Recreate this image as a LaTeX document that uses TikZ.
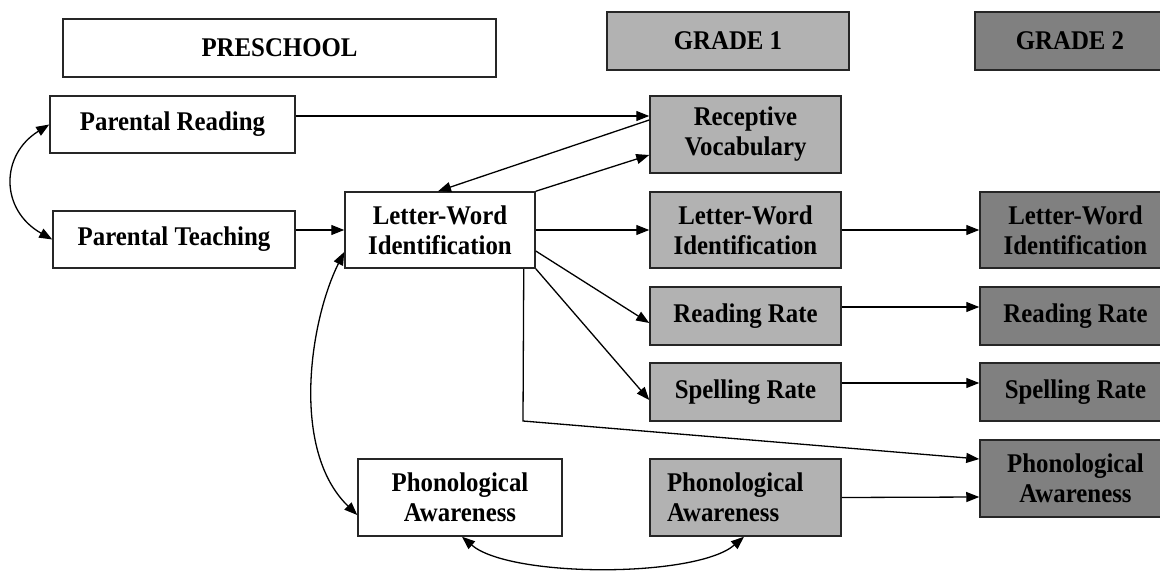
\documentclass[tikz,border=0pt]{standalone}
\usepackage{fontspec}
\setmainfont[FakeStretch=0.92]{Liberation Serif}
\usetikzlibrary{arrows.meta}
\definecolor{gone}{RGB}{178,178,178}
\definecolor{gtwo}{RGB}{128,128,128}
\begin{document}
\begin{tikzpicture}[x=1pt,y=-1pt,
  box/.style={draw=black!85,line width=1.5pt,minimum width=191pt,minimum height=77pt,
    align=center,inner sep=0pt,font=\fontsize{27}{30}\selectfont\bfseries},
  pre/.style={box,fill=white},
  gA/.style={box,fill=gone},
  gB/.style={box,fill=gtwo},
  conn/.style={line width=1.3pt,-{Triangle[length=13pt,width=10pt]}},
  dconn/.style={line width=1.3pt,{Triangle[length=13pt,width=10pt]}-{Triangle[length=13pt,width=10pt]}}]
\useasboundingbox (0,0) rectangle (1160,573);
% headers
\node[pre,minimum width=433pt,minimum height=58pt] (hpre) at (279.5,48) {PRESCHOOL};
\node[gA,minimum width=242pt,minimum height=58pt] (hg1) at (728,41) {GRADE 1};
\node[gB,minimum width=190pt,minimum height=58pt] (hg2) at (1070,41) {GRADE 2};
% preschool
\node[pre,minimum width=245pt,minimum height=57pt] (pr) at (172.5,124.5) {Parental Reading};
\node[pre,minimum width=242pt,minimum height=57pt] (pt) at (174,239.5) {Parental Teaching};
\node[pre,minimum width=190pt,minimum height=76pt] (lwp) at (440,230) {Letter-Word\\Identification};
\node[pre,minimum width=204pt] (pap) at (460,497.5) {Phonological\\Awareness};
% grade 1
\node[gA] (rv) at (745.5,134.5) {Receptive\\Vocabulary};
\node[gA,minimum height=76pt] (lw1) at (745.5,230) {Letter-Word\\Identification};
\node[gA,minimum height=58pt] (rr1) at (745.5,316) {Reading Rate};
\node[gA,minimum height=58pt] (sr1) at (745.5,392) {Spelling Rate};
\node[gA,text width=157pt,inner xsep=17pt,align=left] (pa1) at (745.5,497.5) {Phonological\\Awareness};
% grade 2
\node[gB,minimum height=76pt] (lw2) at (1075.5,230) {Letter-Word\\Identification};
\node[gB,minimum height=58pt] (rr2) at (1075.5,316) {Reading Rate};
\node[gB,minimum height=58pt] (sr2) at (1075.5,392) {Spelling Rate};
\node[gB] (pa2) at (1075.5,478.5) {Phonological\\Awareness};
% connectors
\draw[conn] ([yshift=8.5pt]pr.east) -- ([yshift=18.5pt]rv.west);
\draw[conn] ([yshift=14.5pt]rv.west) -- ([xshift=-2pt]lwp.north);
\draw[conn] (lwp.north east) -- ([yshift=-20.5pt]rv.west);
\draw[conn] ([yshift=9.5pt]pt.east) -- (lwp.west);
\draw[conn] (lwp.east) -- (lw1.west);
\draw[conn] (lw1.east) -- (lw2.west);
\draw[conn] ([yshift=-21pt]lwp.east) -- ([yshift=-7pt]rr1.west);
\draw[conn] (lwp.south east) -- ([yshift=-8pt]sr1.west);
\coordinate (bend) at (523,421);
\draw[conn] ([xshift=-12pt]lwp.south east) -- (bend) -- ([yshift=19.5pt]pa2.west);
\draw[conn] ([yshift=9pt]rr1.east) -- ([yshift=9pt]rr2.west);
\draw[conn] ([yshift=9pt]sr1.east) -- ([yshift=9pt]sr2.west);
\draw[conn] (pa1.east) -- ([yshift=-18.5pt]pa2.west);
\draw[dconn] (pr.west) .. controls (0,155) and (0,210) .. (pt.west);
\draw[dconn] ([yshift=-22pt]lwp.west) .. controls (310,320) and (290,450) .. ([yshift=-17.5pt]pap.west);
\draw[dconn] ([xshift=2pt]pap.south) .. controls (510,578) and (696,578) .. ([xshift=-1.5pt]pa1.south);
\end{tikzpicture}
\end{document}
